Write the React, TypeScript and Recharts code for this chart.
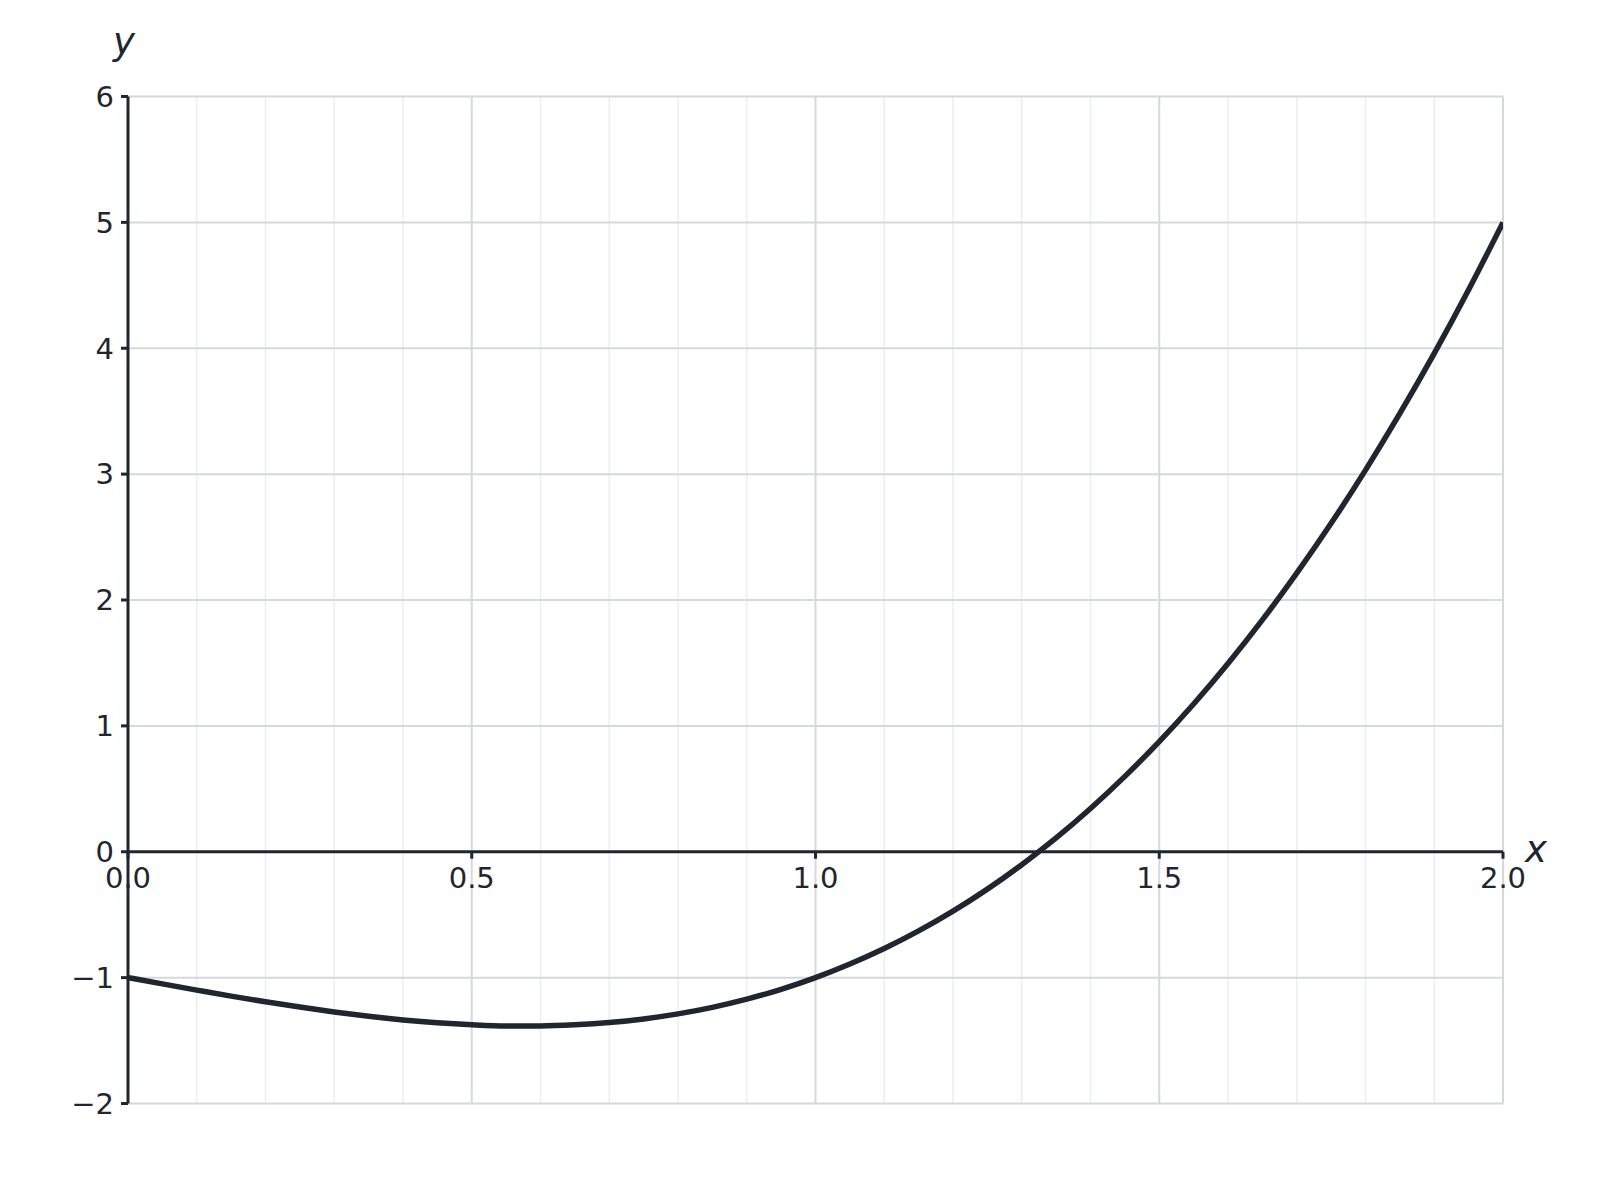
import React from "react";
import { LineChart, Line, XAxis, YAxis, ReferenceLine } from "recharts";

// x positions of the curve samples
const xs = [
  0, 0.05, 0.1, 0.15, 0.2, 0.25, 0.3, 0.35, 0.4, 0.45, 0.5, 0.55, 0.6, 0.65, 0.7,
  0.75, 0.8, 0.85, 0.9, 0.95, 1.0, 1.05, 1.1, 1.15, 1.2, 1.25, 1.3, 1.35, 1.4,
  1.45, 1.5, 1.55, 1.6, 1.65, 1.7, 1.75, 1.8, 1.85, 1.9, 1.95, 2.0,
];
// y values of the curve read at those x positions
const ys = [
  -1.0, -1.05, -1.099, -1.147, -1.192, -1.234, -1.273, -1.307, -1.336, -1.359,
  -1.375, -1.384, -1.384, -1.375, -1.357, -1.328, -1.288, -1.236, -1.171,
  -1.093, -1.0, -0.892, -0.769, -0.629, -0.472, -0.297, -0.103, 0.11, 0.344,
  0.599, 0.875, 1.174, 1.496, 1.842, 2.213, 2.609, 3.032, 3.482, 3.959, 4.465,
  5.0,
];

const xTicks = [0, 0.5, 1.0, 1.5, 2.0];
const xTickLabels = ["0.0", "0.5", "1.0", "1.5", "2.0"];
const yTicks = [-2, -1, 0, 1, 2, 3, 4, 5, 6];
const yTickLabels = ["\u22122", "\u22121", "0", "1", "2", "3", "4", "5", "6"];
const xMinor = [
  0.1, 0.2, 0.3, 0.4, 0.6, 0.7, 0.8, 0.9, 1.1, 1.2, 1.3, 1.4, 1.6, 1.7, 1.8, 1.9,
];
const X_DOMAIN: [number, number] = [0, 2];
const Y_DOMAIN: [number, number] = [-2, 6];

const data = xs.map((x, i) => ({ x, y: ys[i] }));

const W = 1600;
const H = 1200;
const X_AXIS_H = 30;
const M = { top: 96.5, right: 97, bottom: 96.5 - X_AXIS_H, left: 0 };
const Y_AXIS_W = 128;
const PLOT_H = H - M.top - M.bottom - X_AXIS_H;
const ZERO_UP = (PLOT_H * (0 - Y_DOMAIN[0])) / (Y_DOMAIN[1] - Y_DOMAIN[0]);

const DARK = "#1f2630";
const MAJOR = "#d5d8de";
const MINOR = "#eceef1";
const FONT = "DejaVu Sans, sans-serif";

const XTick = (props: any) => {
  const { x, y, payload } = props;
  const y0 = y - ZERO_UP;
  const idx = xTicks.indexOf(payload.value);
  const label = idx >= 0 ? xTickLabels[idx] : String(payload.value);
  return (
    <g>
      <line x1={x} x2={x} y1={y0} y2={y0 + 7} stroke={DARK} strokeWidth={3} />
      <text
        x={x}
        y={y0 + 36}
        textAnchor="middle"
        fontFamily={FONT}
        fontSize={29}
        fill={DARK}
      >
        {label}
      </text>
    </g>
  );
};

const YTick = (props: any) => {
  const { x, y, payload } = props;
  const idx = yTicks.indexOf(payload.value);
  const label = idx >= 0 ? yTickLabels[idx] : String(payload.value);
  return (
    <text
      x={x}
      y={y}
      dy="0.355em"
      textAnchor="end"
      fontFamily={FONT}
      fontSize={29}
      fill={DARK}
    >
      {label}
    </text>
  );
};

export default function App() {
  return (
    <div
      style={{
        position: "absolute",
        left: 0,
        top: 0,
        width: W,
        height: H,
        background: "#fff",
      }}
    >
      <LineChart width={W} height={H} data={data} margin={M}>
        <XAxis
          dataKey="x"
          type="number"
          domain={X_DOMAIN}
          ticks={xTicks}
          axisLine={false}
          tickLine={false}
          tickSize={0}
          tickMargin={0}
          height={X_AXIS_H}
          interval={0}
          tick={<XTick />}
          allowDataOverflow
        />
        <YAxis
          type="number"
          domain={Y_DOMAIN}
          ticks={yTicks}
          width={Y_AXIS_W}
          interval={0}
          axisLine={{ stroke: DARK, strokeWidth: 3 }}
          tickLine={{ stroke: DARK, strokeWidth: 3 }}
          tickSize={7}
          tickMargin={7}
          tick={<YTick />}
          allowDataOverflow
        />
        {xMinor.map((v) => (
          <ReferenceLine key={"mx" + v} x={v} stroke={MINOR} strokeWidth={1.5} />
        ))}
        {xTicks
          .filter((v) => v !== 0)
          .map((v) => (
            <ReferenceLine key={"gx" + v} x={v} stroke={MAJOR} strokeWidth={2} />
          ))}
        {yTicks
          .filter((v) => v !== 0)
          .map((v) => (
            <ReferenceLine key={"gy" + v} y={v} stroke={MAJOR} strokeWidth={2} />
          ))}
        <ReferenceLine y={0} stroke={DARK} strokeWidth={3} />
        <Line
          type="monotone"
          dataKey="y"
          stroke={DARK}
          strokeWidth={5.5}
          dot={false}
          isAnimationActive={false}
        />
      </LineChart>
      <svg
        width={W}
        height={H}
        style={{ position: "absolute", left: 0, top: 0, pointerEvents: "none" }}
      >
        <text
          x={113}
          y={54}
          fontFamily={FONT}
          fontStyle="italic"
          fontSize={37}
          fill={DARK}
        >
          y
        </text>
        <text
          x={1525}
          y={862}
          fontFamily={FONT}
          fontStyle="italic"
          fontSize={37}
          fill={DARK}
        >
          x
        </text>
      </svg>
    </div>
  );
}
